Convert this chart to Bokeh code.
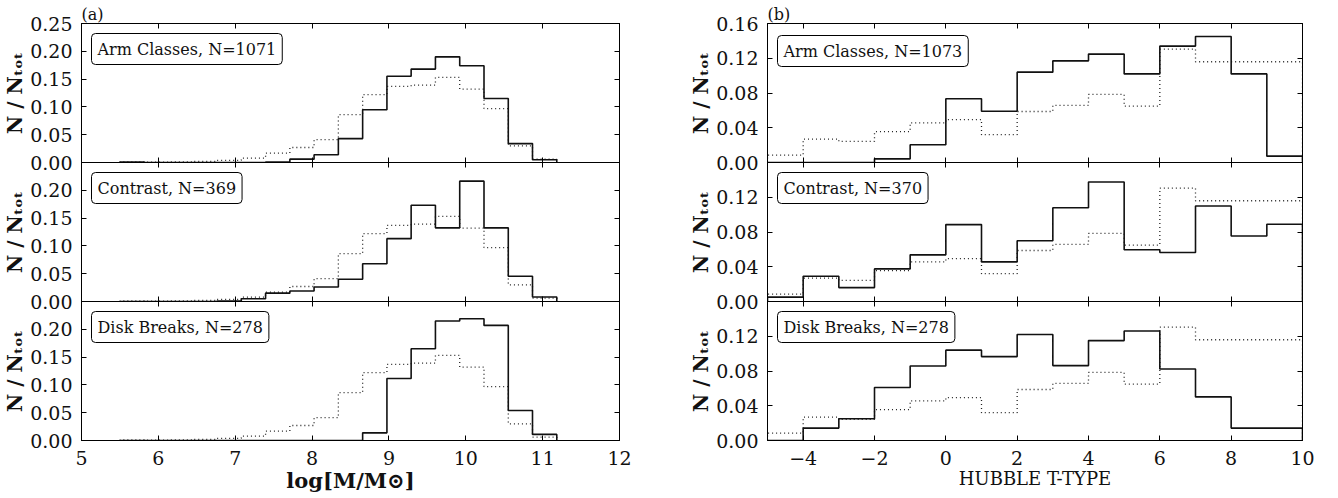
from bokeh.plotting import figure
from bokeh.models import (Range1d, LinearAxis, FixedTicker, Label, NumeralTickFormatter,
                          Title, GlobalInlineStyleSheet)
from bokeh.layouts import row, column
from bokeh.embed import file_html
from bokeh.resources import INLINE

FONT = "DejaVu Serif"

# ---------------- data ----------------
mass_edges = [5.500, 5.816, 6.132, 6.447, 6.763, 7.079, 7.395, 7.711, 8.026, 8.342,
              8.658, 8.974, 9.289, 9.605, 9.921, 10.237, 10.553, 10.868, 11.184]
mass_all = [0.001, 0.0005, 0.001, 0.002, 0.004, 0.008, 0.017, 0.027, 0.041, 0.086,
            0.122, 0.137, 0.139, 0.153, 0.132, 0.097, 0.030, 0.006]
mass_arm = [0.001, 0.0, 0.0, 0.0, 0.0, 0.0, 0.001, 0.006, 0.014, 0.043,
            0.095, 0.155, 0.168, 0.190, 0.174, 0.115, 0.034, 0.005]
mass_contrast = [0.0, 0.0, 0.0, 0.0, 0.001, 0.005, 0.015, 0.019, 0.026, 0.040,
                 0.068, 0.113, 0.173, 0.1325, 0.2165, 0.1325, 0.0455, 0.008]
mass_disk = [0.0, 0.0, 0.0, 0.0, 0.0, 0.0, 0.0, 0.0, 0.0, 0.0,
             0.0138, 0.1115, 0.165, 0.215, 0.219, 0.207, 0.054, 0.011]

ttype_edges = [-5, -4, -3, -2, -1, 0, 1, 2, 3, 4, 5, 6, 7, 8, 9, 10]
ttype_all = [0.0085, 0.027, 0.0243, 0.0355, 0.0456, 0.0494, 0.032, 0.0587, 0.0657,
             0.0784, 0.065, 0.1306, 0.116, 0.116, 0.116]
ttype_arm = [0.0, 0.0, 0.0, 0.0042, 0.0204, 0.0734, 0.059, 0.104, 0.117, 0.1248,
             0.102, 0.134, 0.145, 0.102, 0.0073]
ttype_contrast = [0.005, 0.029, 0.016, 0.0375, 0.0537, 0.0885, 0.0456, 0.070, 0.108,
                  0.1376, 0.0595, 0.0564, 0.110, 0.0754, 0.0889]
ttype_disk = [0.0, 0.0143, 0.0251, 0.061, 0.0858, 0.104, 0.0966, 0.122, 0.0862,
              0.115, 0.126, 0.0823, 0.0502, 0.0143, 0.0143]

mass_titles = ["Arm Classes, N=1071", "Contrast, N=369", "Disk Breaks, N=278"]
ttype_titles = ["Arm Classes, N=1073", "Contrast, N=370", "Disk Breaks, N=278"]
mass_xticks = [5, 6, 7, 8, 9, 10, 11, 12]
ttype_xticks = [-4, -2, 0, 2, 4, 6, 8, 10]
ttype_xlabels = {-4: "\u22124", -2: "\u22122"}
mass_yticks_top = [0.0, 0.05, 0.10, 0.15, 0.20, 0.25]
mass_yticks = [0.0, 0.05, 0.10, 0.15, 0.20]
ttype_yticks_top = [0.0, 0.04, 0.08, 0.12, 0.16]
ttype_yticks = [0.0, 0.04, 0.08, 0.12]
ylabel = "N / N\u209c\u2092\u209c"
mass_xlabel = "log[M/M\u2299]"
ttype_xlabel = "HUBBLE T-TYPE"
panel_tags = ["(a)", "(b)"]

# ---------------- layout constants ----------------
FRAME_H = 139
OVER = 12
TOP_B = 21
BOT_B = 57


def step_xy(edges, vals):
    xs = [edges[0]] + list(edges)
    ys = [0.0] + list(vals) + [0.0]
    return xs, ys


def make_axis(ticks, show, fmt=None, overrides=None, standoff=8):
    kw = dict(ticker=FixedTicker(ticks=ticks), major_tick_in=5, major_tick_out=0,
              minor_tick_line_color=None, axis_line_color="black",
              major_tick_line_color="black", axis_line_width=1, major_tick_line_width=1,
              major_label_text_font=FONT)
    if show:
        kw.update(major_label_text_font_size="19px", major_label_standoff=standoff,
                  major_label_text_color="#111111")
    else:
        kw.update(major_label_text_font_size="1px", major_label_standoff=0,
                  major_label_text_color=None)
    a = LinearAxis(**kw)
    if fmt is not None:
        a.formatter = fmt
    if overrides:
        a.major_label_overrides = overrides
    return a


def panel(xr, ymax, xticks, yticks, frame_w, left_b, right_b, pos, title,
          ref_vals, sub_vals, edges, xlabel, xlabel_size, xlabel_style,
          tag=None, xoverrides=None, box_off=10):
    top_b = TOP_B if pos == 0 else OVER
    bot_b = BOT_B if pos == 2 else OVER
    p = figure(frame_width=frame_w, frame_height=FRAME_H,
               x_range=Range1d(*xr), y_range=Range1d(0, ymax),
               x_axis_location=None, y_axis_location=None,
               toolbar_location=None, output_backend="svg",
               min_border_left=left_b, min_border_right=right_b,
               min_border_top=top_b, min_border_bottom=bot_b,
               border_fill_color=None, outline_line_color="black",
               outline_line_width=1)
    p.xgrid.visible = False
    p.ygrid.visible = False
    if pos > 0:
        p.styles = {"margin-top": f"-{2 * OVER}px"}
    if tag is not None:
        p.title = Title(text=tag, align="left", text_font=FONT, text_font_size="16px",
                        text_font_style="normal", standoff=0, text_color="#111111")

    yfmt = NumeralTickFormatter(format="0.00")
    ax_l = make_axis(yticks, True, fmt=yfmt, standoff=9)
    ax_l.axis_label = ylabel
    ax_l.axis_label_text_font = FONT
    ax_l.axis_label_text_font_style = "bold"
    ax_l.axis_label_text_font_size = "20px"
    ax_l.axis_label_text_color = "#111111"
    ax_l.axis_label_standoff = 0
    p.add_layout(ax_l, "left")
    p.add_layout(make_axis(yticks, False), "right")
    ax_b = make_axis(xticks, pos == 2, overrides=xoverrides, standoff=10)
    if pos == 2:
        ax_b.axis_label = xlabel
        ax_b.axis_label_text_font = FONT
        ax_b.axis_label_text_font_style = xlabel_style
        ax_b.axis_label_text_font_size = xlabel_size
        ax_b.axis_label_text_color = "#111111"
        ax_b.axis_label_standoff = 0
    p.add_layout(ax_b, "below")
    p.add_layout(make_axis(xticks, False), "above")

    xs, ys = step_xy(edges, ref_vals)
    p.step(xs, ys, mode="after", line_color="#222222", line_width=1.3, line_dash="1 3")
    xs, ys = step_xy(edges, sub_vals)
    p.step(xs, ys, mode="after", line_color="#111111", line_width=1.6)

    p.add_layout(Label(x=10, y=FRAME_H - box_off, x_units="screen", y_units="screen",
                       text=title, text_font=FONT, text_font_size="16px",
                       text_align="left", text_baseline="top", padding=6,
                       border_line_color="black", border_line_width=1,
                       border_radius=4, background_fill_color="white",
                       text_color="#111111"))
    return p


left_figs = []
subs = [mass_arm, mass_contrast, mass_disk]
for i in range(3):
    p = panel((5, 12), 0.25, mass_xticks, mass_yticks_top if i == 0 else mass_yticks,
              538, 74, 20, i, mass_titles[i], mass_all, subs[i], mass_edges,
              mass_xlabel, "21px", "bold", tag=panel_tags[0] if i == 0 else None)
    left_figs.append(p)

right_figs = []
subs = [ttype_arm, ttype_contrast, ttype_disk]
for i in range(3):
    p = panel((-5, 10), 0.16, ttype_xticks, ttype_yticks_top if i == 0 else ttype_yticks,
              535, 128, 15, i, ttype_titles[i], ttype_all, subs[i], ttype_edges,
              ttype_xlabel, "18px", "normal", tag=panel_tags[1] if i == 0 else None,
              xoverrides=ttype_xlabels, box_off=12 if i == 0 else 10)
    right_figs.append(p)

page_css = GlobalInlineStyleSheet(css="html, body { overflow: hidden; } body { margin-top: 2px; }")
layout = row(column(*left_figs), column(*right_figs), stylesheets=[page_css])
open("out.html", "w").write(file_html(layout, INLINE))
